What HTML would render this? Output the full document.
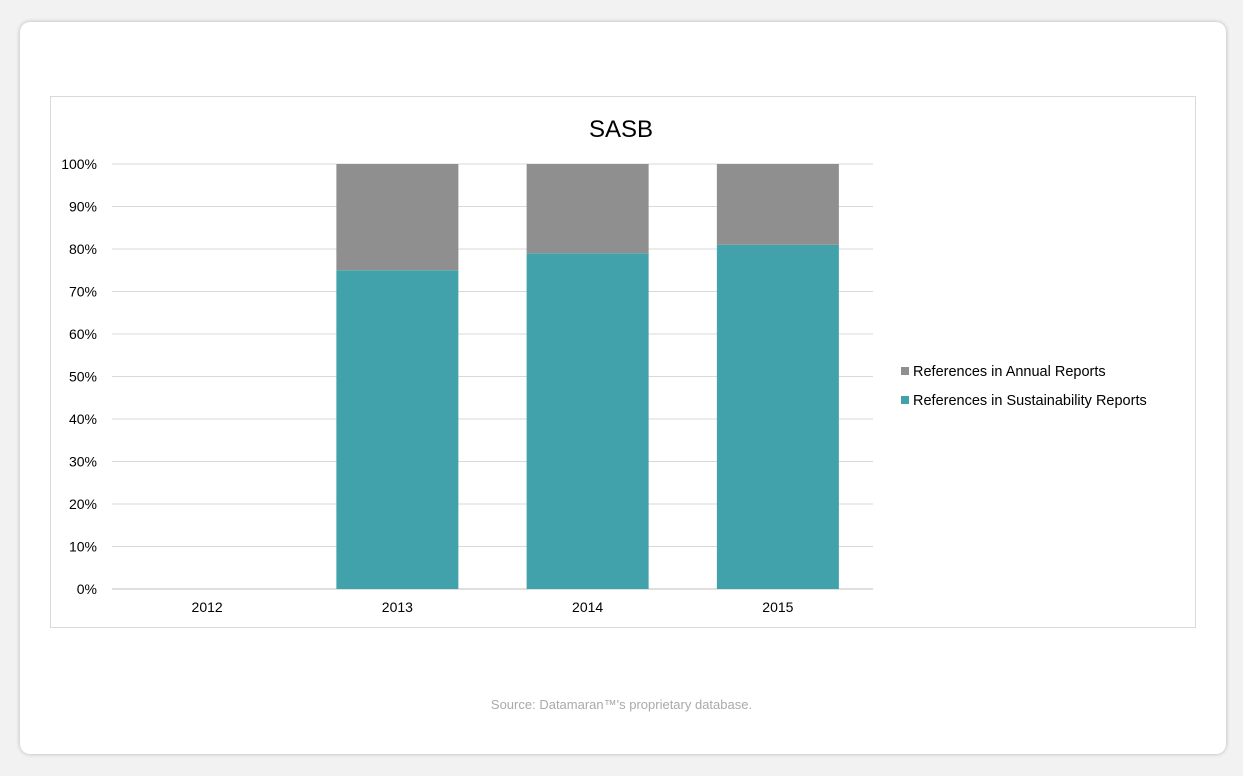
<!DOCTYPE html>
<html><head><meta charset="utf-8"><style>
body{margin:0;background:#f2f2f2;width:1243px;height:776px;overflow:hidden;font-family:"Liberation Sans",sans-serif}
#card{position:absolute;left:20px;top:22px;width:1206px;height:732px;background:#fff;border-radius:10px;box-shadow:0 0 4px rgba(0,0,0,.25)}
#frame{position:absolute;left:50px;top:96px;width:1144px;height:530px;border:1px solid #d9d9d9;background:#fff}
#src{position:absolute;left:0;width:1243px;top:697px;text-align:center;font-size:13px;color:#aaa}
</style></head><body>
<div id="card"></div>
<div id="frame"></div>
<svg id="chart" width="1243" height="776" style="position:absolute;left:0;top:0">
<text x="621" y="137" text-anchor="middle" font-size="24" fill="#000">SASB</text>
<g id="g"></g>
</svg>
<div id="src">Source: Datamaran™'s proprietary database.</div>
<script>
const categories=["2012","2013","2014","2015"];
const sustain=[0,75,79,81];
const annual=[0,25,21,19];
const ticks=[0,10,20,30,40,50,60,70,80,90,100];
const series=[{name:"References in Annual Reports",color:"#8f8f8f"},{name:"References in Sustainability Reports",color:"#42a2ab"}];
const L=112,R=873,T=164,B=589,NS="http://www.w3.org/2000/svg",g=document.getElementById('g');
const y=v=>B-(B-T)*v/100, band=(R-L)/categories.length, cx=i=>L+band*(i+.5), bw=122;
function mk(t,a,txt){const e=document.createElementNS(NS,t);for(const k in a)e.setAttribute(k,a[k]);if(txt!=null)e.textContent=txt;g.appendChild(e);return e;}
ticks.forEach(t=>{
 const l=mk('line',{x1:L,x2:R,y1:y(t),y2:y(t),stroke:t?'#d9d9d9':'#bfbfbf','stroke-width':1});
 
 
 const tx=mk('text',{x:97,y:y(t)+5,'text-anchor':'end','font-size':14,fill:'#000'},t+'%');
 
 
});
categories.forEach((c,i)=>{
 const tx=mk('text',{x:cx(i),y:612,'text-anchor':'middle','font-size':14,fill:'#000'},c);
 
 
 if(sustain[i]>0){
  const b=mk('rect',{x:cx(i)-bw/2,y:y(sustain[i]),width:bw,height:B-y(sustain[i]),fill:series[1].color});
  
  
 }
 if(annual[i]>0){
  const top=sustain[i]+annual[i];
  const b=mk('rect',{x:cx(i)-bw/2,y:y(top),width:bw,height:y(sustain[i])-y(top),fill:series[0].color});
  
  
 }
});
series.forEach((s,k)=>{
 const yy=372+k*29;
 const r=mk('rect',{x:901,y:yy-5,width:8,height:8,fill:s.color});
 
 
 const t=mk('text',{x:913,y:yy+4,'font-size':14.5,fill:'#000'},s.name);
 
 
});
</script>
</body></html>
